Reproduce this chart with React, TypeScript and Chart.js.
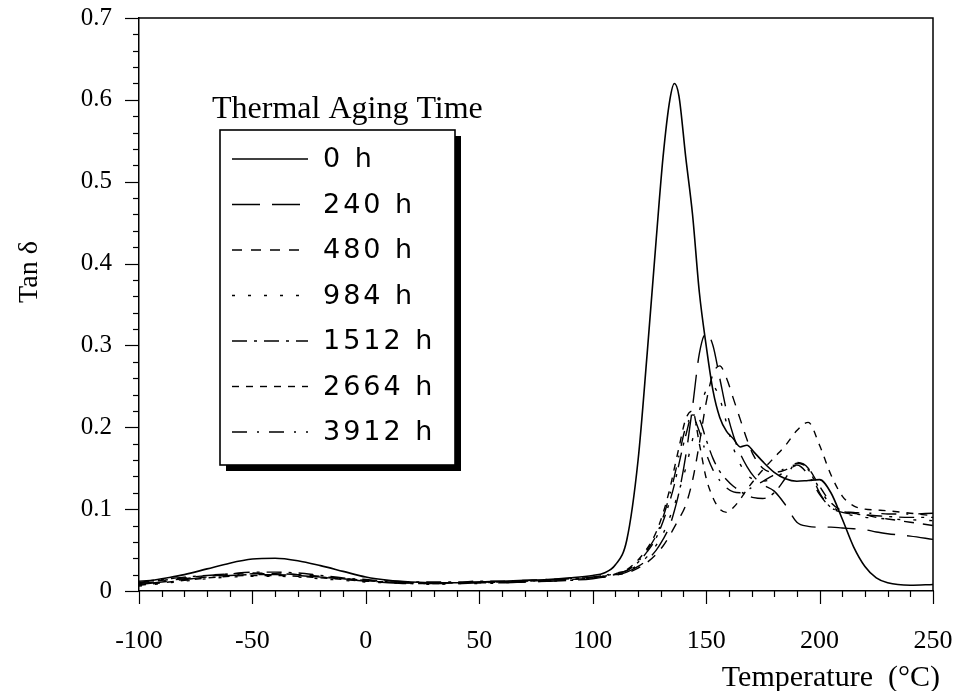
import React, { useEffect, useRef } from "react";
import { Chart, registerables } from "chart.js";

Chart.register(...registerables);

// Temperature (°C) sample points
const temps = [-100, -90, -80, -70, -60, -50, -40, -30, -20, -10, 0, 10, 20, 30, 40, 50, 60, 70, 80, 90, 100,
  105, 110, 115, 120, 124, 128, 131, 134, 136, 138, 141, 144, 147, 150, 153, 156, 159, 162, 165, 168, 171,
  175, 180, 185, 190, 195, 200, 205, 210, 215, 220, 225, 230, 240, 250];

const seriesNames = ["0 h", "240 h", "480 h", "984 h", "1512 h", "2664 h", "3912 h"];

const xTickValues = [-100, -50, 0, 50, 100, 150, 200, 250];
const yTickValues = [0, 0.1, 0.2, 0.3, 0.4, 0.5, 0.6, 0.7];
const yTickLabels = ["0", "0.1", "0.2", "0.3", "0.4", "0.5", "0.6", "0.7"];

const tan0 = [0.010, 0.015, 0.020, 0.027, 0.034, 0.039, 0.040, 0.037, 0.031, 0.024, 0.017, 0.013, 0.011, 0.010, 0.010, 0.011, 0.012, 0.013, 0.014, 0.016, 0.019,
  0.022, 0.032, 0.062, 0.16, 0.29, 0.43, 0.53, 0.60, 0.62, 0.605, 0.53, 0.46, 0.365, 0.30, 0.245, 0.212, 0.195, 0.186, 0.176, 0.178, 0.17,
  0.158, 0.145, 0.137, 0.134, 0.135, 0.136, 0.12, 0.088, 0.054, 0.03, 0.016, 0.01, 0.007, 0.008];

const tan240 = [0.008, 0.011, 0.014, 0.017, 0.019, 0.020, 0.020, 0.019, 0.017, 0.015, 0.012, 0.010, 0.009, 0.009, 0.009, 0.010, 0.010, 0.011, 0.012, 0.013, 0.015,
  0.017, 0.019, 0.023, 0.03, 0.038, 0.05, 0.063, 0.08, 0.098, 0.12, 0.165, 0.225, 0.29, 0.315, 0.30, 0.26, 0.22, 0.19, 0.168, 0.152, 0.14,
  0.13, 0.122, 0.105, 0.084, 0.079, 0.078, 0.078, 0.077, 0.076, 0.075, 0.072, 0.07, 0.067, 0.063];

const tan480 = [0.010, 0.013, 0.016, 0.019, 0.021, 0.022, 0.021, 0.020, 0.018, 0.015, 0.013, 0.011, 0.010, 0.010, 0.010, 0.011, 0.011, 0.012, 0.013, 0.014, 0.016,
  0.018, 0.020, 0.022, 0.028, 0.035, 0.045, 0.055, 0.068, 0.078, 0.088, 0.105, 0.135, 0.18, 0.23, 0.265, 0.275, 0.26, 0.235, 0.21, 0.185, 0.165,
  0.15, 0.145, 0.148, 0.156, 0.15, 0.128, 0.108, 0.098, 0.095, 0.093, 0.09, 0.088, 0.084, 0.08];

const tan984 = [0.006, 0.009, 0.012, 0.015, 0.017, 0.018, 0.018, 0.017, 0.015, 0.013, 0.011, 0.010, 0.009, 0.008, 0.009, 0.009, 0.010, 0.011, 0.012, 0.013, 0.015,
  0.017, 0.020, 0.024, 0.032, 0.042, 0.056, 0.07, 0.09, 0.105, 0.122, 0.15, 0.185, 0.22, 0.245, 0.25, 0.235, 0.205, 0.175, 0.155, 0.142, 0.136,
  0.134, 0.138, 0.146, 0.153, 0.148, 0.125, 0.105, 0.096, 0.092, 0.09, 0.089, 0.088, 0.087, 0.086];

const tan1512 = [0.012, 0.014, 0.017, 0.019, 0.021, 0.023, 0.023, 0.022, 0.019, 0.016, 0.014, 0.012, 0.011, 0.011, 0.011, 0.012, 0.012, 0.013, 0.014, 0.015, 0.017,
  0.019, 0.021, 0.025, 0.035, 0.048, 0.065, 0.085, 0.11, 0.13, 0.155, 0.19, 0.215, 0.21, 0.185, 0.162, 0.146, 0.136, 0.128, 0.122, 0.117, 0.114,
  0.113, 0.12, 0.138, 0.157, 0.15, 0.12, 0.102, 0.096, 0.094, 0.093, 0.092, 0.091, 0.09, 0.09];

const tan2664 = [0.007, 0.010, 0.013, 0.016, 0.018, 0.019, 0.019, 0.018, 0.016, 0.014, 0.012, 0.011, 0.010, 0.009, 0.010, 0.010, 0.011, 0.012, 0.013, 0.014, 0.016,
  0.018, 0.021, 0.026, 0.038, 0.052, 0.072, 0.095, 0.125, 0.15, 0.175, 0.21, 0.22, 0.18, 0.138, 0.114, 0.1, 0.096, 0.102, 0.112, 0.124, 0.135,
  0.148, 0.163, 0.178, 0.196, 0.206, 0.178, 0.142, 0.116, 0.104, 0.1, 0.099, 0.098, 0.095, 0.092];

const tan3912 = [0.009, 0.012, 0.015, 0.018, 0.020, 0.021, 0.021, 0.020, 0.017, 0.015, 0.013, 0.011, 0.010, 0.010, 0.010, 0.011, 0.011, 0.012, 0.013, 0.015, 0.017,
  0.019, 0.022, 0.025, 0.036, 0.05, 0.068, 0.09, 0.118, 0.14, 0.165, 0.2, 0.212, 0.195, 0.168, 0.148, 0.135, 0.126, 0.121, 0.12, 0.123, 0.128,
  0.134, 0.142, 0.15, 0.154, 0.142, 0.118, 0.102, 0.097, 0.096, 0.095, 0.095, 0.094, 0.094, 0.095];

const allSeries = [tan0, tan240, tan480, tan984, tan1512, tan2664, tan3912];

const dashes: number[][] = [
  [],
  [28, 12],
  [10, 9],
  [3, 13],
  [15, 7, 3, 7],
  [7, 7],
  [15, 10, 2, 10],
];

const SERIF = "'Liberation Serif', 'Times New Roman', serif";
const SANS = "'DejaVu Sans', sans-serif";

const decorPlugin = {
  id: "decor",
  afterDraw(chart: any) {
    const ctx = chart.ctx;
    const { left, right, top, bottom } = chart.chartArea;
    const xs = chart.scales.x;
    const ys = chart.scales.y;
    ctx.save();
    ctx.strokeStyle = "#000";
    ctx.fillStyle = "#000";
    ctx.lineWidth = 1.5;
    ctx.setLineDash([]);
    // frame top and right
    ctx.beginPath();
    ctx.moveTo(left, top);
    ctx.lineTo(right, top);
    ctx.lineTo(right, bottom);
    ctx.stroke();
    // x ticks
    ctx.lineWidth = 1.2;
    for (let v = -100; v <= 250; v += 10) {
      const px = Math.round(xs.getPixelForValue(v)) + 0.5;
      const len = v % 50 === 0 ? 13 : 6;
      ctx.beginPath();
      ctx.moveTo(px, bottom);
      ctx.lineTo(px, bottom + len);
      ctx.stroke();
    }
    // y ticks
    for (let i = 0; i <= 35; i++) {
      const v = i * 0.02;
      const py = Math.round(ys.getPixelForValue(v)) + 0.5;
      const len = i % 5 === 0 ? 14 : 6;
      ctx.beginPath();
      ctx.moveTo(left, py);
      ctx.lineTo(left - len, py);
      ctx.stroke();
    }
    // tick labels
    ctx.font = `26px ${SERIF}`;
    ctx.textAlign = "center";
    ctx.textBaseline = "middle";
    xTickValues.forEach((v) => {
      ctx.fillText(String(v), xs.getPixelForValue(v), bottom + 50);
    });
    ctx.font = `25px ${SERIF}`;
    ctx.textAlign = "right";
    yTickValues.forEach((v, i) => {
      ctx.fillText(yTickLabels[i], left - 27, ys.getPixelForValue(v));
    });

    // axis titles
    ctx.font = `28px ${SERIF}`;
    ctx.textAlign = "center";
    ctx.textBaseline = "middle";
    ctx.save();
    ctx.translate(30, 272);
    ctx.rotate(-Math.PI / 2);
    ctx.fillText("Tan δ", 0, 0);
    ctx.restore();
    ctx.font = `30px ${SERIF}`;
    ctx.textAlign = "right";
    ctx.textBaseline = "alphabetic";
    ctx.fillText("Temperature  (°C)", 940, 686);

    // legend
    const bx = 220, by = 130, bw = 235, bh = 335;
    ctx.fillStyle = "#000";
    ctx.fillRect(bx + 6, by + 6, bw, bh);
    ctx.fillStyle = "#fff";
    ctx.fillRect(bx, by, bw, bh);
    ctx.lineWidth = 1.6;
    ctx.strokeRect(bx, by, bw, bh);
    ctx.fillStyle = "#000";
    ctx.font = `32px ${SERIF}`;
    ctx.textAlign = "left";
    ctx.textBaseline = "alphabetic";
    ctx.fillText("Thermal Aging Time", 212, 118);

    ctx.font = `27px ${SANS}`;
    (ctx as any).letterSpacing = "3px";
    ctx.textBaseline = "middle";
    seriesNames.forEach((name, i) => {
      const cy = 159 + i * 45.5;
      ctx.lineWidth = 1.4;
      ctx.setLineDash(dashes[i]);
      ctx.beginPath();
      ctx.moveTo(232, cy);
      ctx.lineTo(308, cy);
      ctx.stroke();
      ctx.setLineDash([]);
      ctx.fillText(name, 323, cy + 1);
    });
    (ctx as any).letterSpacing = "0px";
    ctx.restore();
  },
};

export default function App() {
  const ref = useRef<HTMLCanvasElement | null>(null);
  useEffect(() => {
    if (!ref.current) return;
    const datasets = allSeries.map((vals, i) => ({
      label: seriesNames[i],
      data: temps.map((t, j) => ({ x: t, y: vals[j] })),
      borderColor: "#000",
      backgroundColor: "#000",
      borderWidth: i === 0 ? 1.6 : 1.4,
      borderDash: dashes[i],
      pointRadius: 0,
      fill: false,
      cubicInterpolationMode: "monotone" as const,
    }));
    const chart = new Chart(ref.current, {
      type: "line",
      data: { datasets },
      plugins: [decorPlugin],
      options: {
        animation: false,
        responsive: false,
        events: [],
        layout: { padding: { left: 0, top: 18, right: 25, bottom: 0 } },
        plugins: { legend: { display: false }, tooltip: { enabled: false } },
        scales: {
          x: {
            type: "linear",
            min: -100,
            max: 250,
            ticks: { display: false, stepSize: 50 },
            grid: { drawOnChartArea: false, drawTicks: false },
            border: { display: true, color: "#000", width: 1.5 },
            afterFit: (s: any) => { s.height = 100; },
          },
          y: {
            type: "linear",
            min: 0,
            max: 0.7,
            ticks: { display: false, stepSize: 0.1 },
            grid: { drawOnChartArea: false, drawTicks: false },
            border: { display: true, color: "#000", width: 1.5 },
            afterFit: (s: any) => { s.width = 139; },
          },
        },
      },
    });
    return () => chart.destroy();
  }, []);
  return (
    <div style={{ position: "fixed", left: 0, top: 0, width: 958, height: 691, background: "#fff" }}>
      <canvas ref={ref} width={958} height={691} style={{ display: "block" }} />
    </div>
  );
}
